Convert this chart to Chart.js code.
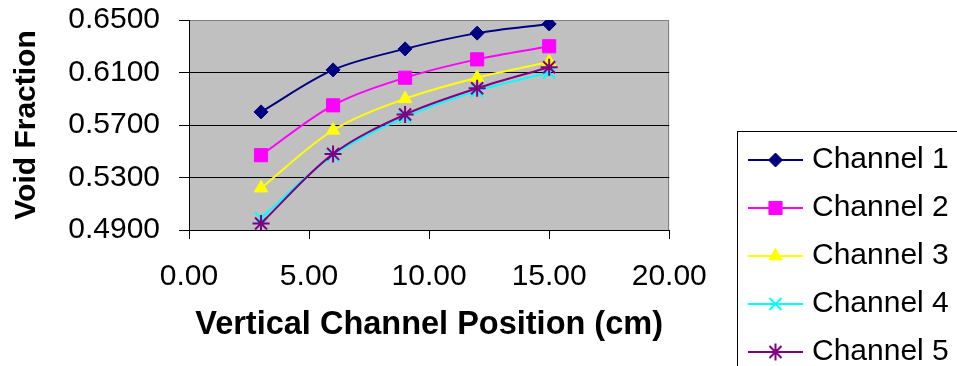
<!DOCTYPE html>
<html>
<head>
<meta charset="utf-8">
<script src="https://cdn.jsdelivr.net/npm/chart.js@4/dist/chart.umd.min.js"></script>
<style>
  html, body { margin: 0; padding: 0; background: #ffffff; }
  canvas { display: block; }
</style>
</head>
<body>
<canvas id="chart" width="957" height="366"></canvas>
<script>
// Measurement positions along the channel (cm)
const positions = [3, 6, 9, 12, 15];

// Void fraction per channel
const channel1 = [0.580, 0.612, 0.628, 0.640, 0.647];
const channel2 = [0.547, 0.585, 0.606, 0.620, 0.630];
const channel3 = [0.522, 0.566, 0.590, 0.606, 0.618];
const channel4 = [0.499, 0.547, 0.576, 0.596, 0.610];
const channel5 = [0.495, 0.548, 0.578, 0.598, 0.614];

const seriesNames = ['Channel 1', 'Channel 2', 'Channel 3', 'Channel 4', 'Channel 5'];
const seriesValues = [channel1, channel2, channel3, channel4, channel5];

// Axis tick values
const yTickValues = [0.49, 0.53, 0.57, 0.61, 0.65];
const xTickValues = [0, 5, 10, 15, 20];

// Styling
const seriesColors = ['#000080', '#FF00FF', '#FFFF00', '#00FFFF', '#800080'];
const markerStyles = ['rectRot', 'rect', 'triangle', 'crossRot', 'star'];
const markerRadii = [7, 9.3, 7.8, 8.5, 8.5];
const markerBorders = [1, 1, 1, 2, 2];

const FONT = "'Liberation Sans', Arial, Helvetica, sans-serif";
Chart.defaults.font.family = FONT;
Chart.defaults.color = '#000000';

// Legend symbol: a short line with the series marker in its middle
function legendSymbol(i) {
  const c = document.createElement('canvas');
  c.width = 55;
  c.height = 22;
  const g = c.getContext('2d');
  g.strokeStyle = seriesColors[i];
  g.lineWidth = 2;
  g.beginPath();
  g.moveTo(0, 11);
  g.lineTo(55, 11);
  g.stroke();
  g.fillStyle = seriesColors[i];
  g.lineWidth = markerBorders[i];
  Chart.helpers.drawPoint(g, {
    pointStyle: markerStyles[i],
    radius: markerRadii[i],
    borderWidth: markerBorders[i],
    rotation: 0
  }, 27.5, 11);
  return c;
}
const legendSymbols = seriesNames.map((_, i) => legendSymbol(i));

const LEGEND_LEFT = 736;
const LEGEND_TOP = 127;

const plotFrame = {
  id: 'plotFrame',
  beforeDraw(chart) {
    const { ctx, chartArea: a } = chart;
    ctx.save();
    ctx.fillStyle = '#C0C0C0';
    ctx.fillRect(a.left, a.top, a.right - a.left, a.bottom - a.top);
    ctx.strokeStyle = '#808080';
    ctx.lineWidth = 1;
    ctx.beginPath();
    ctx.moveTo(Math.round(a.left) + 0.5, Math.round(a.top) + 0.5);
    ctx.lineTo(Math.round(a.right) - 0.5, Math.round(a.top) + 0.5);
    ctx.lineTo(Math.round(a.right) - 0.5, Math.round(a.bottom));
    ctx.stroke();
    ctx.restore();
  }
};

const legendPlacement = {
  id: 'legendPlacement',
  afterLayout(chart) {
    const lg = chart.legend;
    const w = lg.width, h = lg.height;
    lg.left = LEGEND_LEFT;
    lg.top = LEGEND_TOP;
    lg.right = LEGEND_LEFT + w;
    lg.bottom = LEGEND_TOP + h;
  },
  afterDraw(chart) {
    const lg = chart.legend;
    const ctx = chart.ctx;
    ctx.save();
    ctx.strokeStyle = '#000000';
    ctx.lineWidth = 1;
    ctx.strokeRect(lg.left + 1.5, lg.top + 4.5, 400, 400);
    ctx.restore();
  }
};

const datasets = seriesNames.map((name, i) => ({
  label: name,
  data: positions.map((x, k) => ({ x: x, y: seriesValues[i][k] })),
  borderColor: seriesColors[i],
  backgroundColor: seriesColors[i],
  borderWidth: 2,
  tension: 0.33,
  fill: false,
  pointStyle: markerStyles[i],
  pointRadius: markerRadii[i],
  pointHoverRadius: markerRadii[i],
  pointBorderWidth: markerBorders[i],
  pointBackgroundColor: seriesColors[i],
  pointBorderColor: seriesColors[i],
  order: seriesNames.length - 1 - i
}));

new Chart(document.getElementById('chart'), {
  type: 'line',
  data: { datasets: datasets },
  plugins: [plotFrame, legendPlacement],
  options: {
    responsive: false,
    animation: false,
    events: [],
    layout: { padding: { top: 20, right: 65, left: 0, bottom: 0 } },
    scales: {
      x: {
        type: 'linear',
        min: 0,
        max: 20,
        afterBuildTicks: s => { s.ticks = xTickValues.map(v => ({ value: v })); },
        afterFit: s => { s.height = 136; },
        grid: { drawOnChartArea: false, drawTicks: true, tickLength: 9, tickColor: '#000000' },
        border: { display: true, color: '#000000', width: 1 },
        ticks: {
          padding: 20,
          maxRotation: 0,
          font: { size: 30 },
          color: '#000000',
          callback: v => Number(v).toFixed(2)
        },
        title: {
          display: true,
          text: 'Vertical Channel Position (cm)',
          font: { size: 32.5, weight: 'bold' },
          color: '#000000',
          padding: { top: 0, bottom: 21 }
        }
      },
      y: {
        type: 'linear',
        min: 0.49,
        max: 0.65,
        afterBuildTicks: s => { s.ticks = yTickValues.map(v => ({ value: v })); },
        afterFit: s => {
          s.width = 189;
          s.paddingTop = 18;
          s.paddingBottom = 18;
        },
        grid: {
          drawTicks: true,
          tickLength: 10,
          tickColor: '#000000',
          color: c => (c.tick && c.tick.value >= 0.65 - 1e-9) ? 'rgba(0,0,0,0)' : '#000000',
          lineWidth: 1
        },
        border: { display: true, color: '#000000', width: 1 },
        ticks: {
          padding: 19,
          font: { size: 30 },
          color: '#000000',
          callback: v => Number(v).toFixed(4)
        },
        title: {
          display: true,
          text: 'Void Fraction',
          font: { size: 30, weight: 'bold' },
          color: '#000000',
          padding: { top: 9, bottom: 0 }
        }
      }
    },
    plugins: {
      tooltip: { enabled: false },
      legend: {
        display: true,
        position: 'right',
        align: 'start',
        labels: {
          usePointStyle: true,
          pointStyleWidth: 43,
          padding: 18,
          color: '#000000',
          font: { size: 30 },
          sort: (a, b) => a.datasetIndex - b.datasetIndex,
          generateLabels: chart => {
            const items = Chart.defaults.plugins.legend.labels.generateLabels(chart);
            items.forEach(it => { it.pointStyle = legendSymbols[it.datasetIndex]; });
            return items;
          }
        }
      }
    }
  }
});
</script>
</body>
</html>
